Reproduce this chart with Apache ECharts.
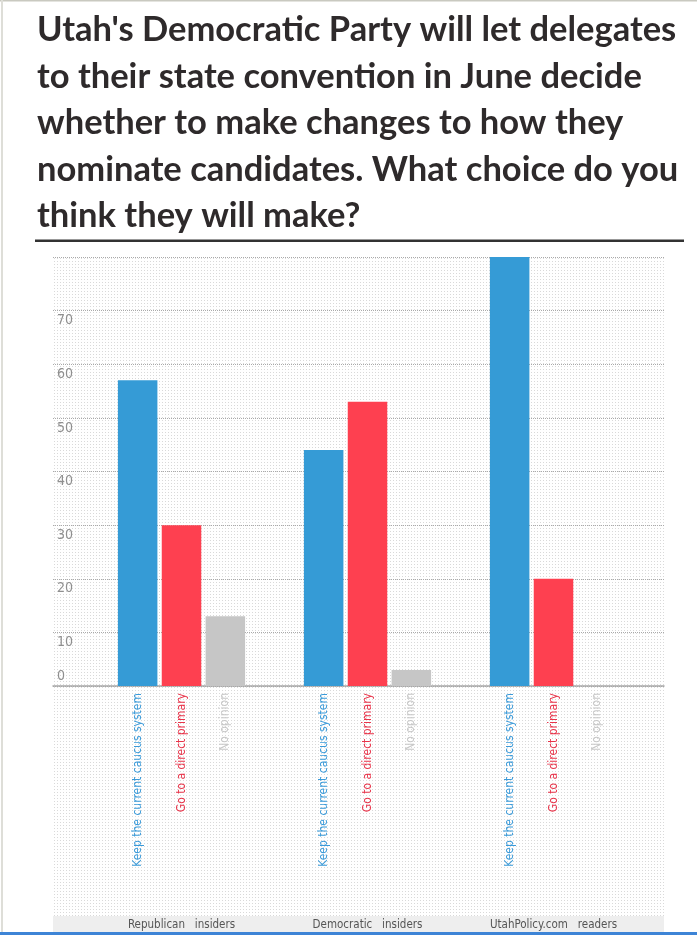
<!DOCTYPE html>
<html lang="en">
<head>
    <meta charset="UTF-8">
    <title>Utah Democratic Party convention poll</title>
    <script src="https://cdn.jsdelivr.net/npm/echarts@6/dist/echarts.min.js"></script>
</head>
<body style="margin: 0; background: #fff">
<div id="container" style="width: 697px; height: 935px"></div>
<script>
    // groups on the x axis
    var groups = ["Republican   insiders", "Democratic   insiders", "UtahPolicy.com   readers"];
    // answers (one bar series each)
    var answers = ["Keep the current caucus system", "Go to a direct primary", "No opinion"];
    var keepCaucus = [57, 44, 80];
    var directPrimary = [30, 53, 20];
    var noOpinion = [13, 3, 0];
    var yTicks = [0, 10, 20, 30, 40, 50, 60, 70];

    var barColors = ["#359bd6", "#fe4050", "#c6c6c6"];
    var textColors = ["#3a9ad9", "#e8344a", "#c8c8c8"];
    var narrow = "'Liberation Sans Narrow', 'DejaVu Sans Condensed', 'Roboto', sans-serif";

    // dotted background texture
    var dots = document.createElement("canvas");
    dots.width = 3;
    dots.height = 3;
    var ctx = dots.getContext("2d");
    ctx.fillStyle = "#fff";
    ctx.fillRect(0, 0, 3, 3);
    ctx.fillStyle = "#d9d9d9";
    ctx.fillRect(0, 0, 1, 1);

    var chart = echarts.init(document.getElementById("container"), null, { renderer: "canvas" });

    function makeSeries(i, values) {
        return {
            name: answers[i],
            type: "bar",
            xAxisIndex: 1,
            yAxisIndex: 1,
            data: values,
            barWidth: 39.5,
            barGap: "11%",
            itemStyle: { color: barColors[i] },
            label: {
                show: true,
                position: "bottom",
                distance: 7,
                rotate: 90,
                align: "right",
                verticalAlign: "middle",
                formatter: "{a}",
                color: textColors[i],
                fontFamily: narrow,
                fontSize: 12
            },
            emphasis: { disabled: true },
            z: 3
        };
    }

    var option = {
        animation: false,
        title: {
            text: "Utah's Democratic Party will let delegates\nto their state convention in June decide\nwhether to make changes to how they\nnominate candidates. What choice do you\nthink they will make?",
            left: 32,
            top: 2,
            textStyle: {
                fontFamily: "Lato",
                fontWeight: "bold",
                fontSize: 34.5,
                lineHeight: 46.5,
                color: "#2e2a2b"
            }
        },
        graphic: [
            { type: "rect", z: -10, shape: { x: 53, y: 257, width: 611, height: 660 },
              style: { fill: { image: dots, repeat: "repeat" } } },
            { type: "rect", z: -9, shape: { x: 53, y: 916, width: 611, height: 19 },
              style: { fill: "#eeeeee" } },
            { type: "rect", z: -9, shape: { x: 35, y: 239.5, width: 649, height: 2.5 },
              style: { fill: "#333" } },
            { type: "rect", z: -9, shape: { x: 0, y: 0, width: 697, height: 1.5 },
              style: { fill: "#c9c9c0" } },
            { type: "rect", z: -9, shape: { x: 1, y: 0, width: 2, height: 935 },
              style: { fill: "#deded8" } },
            { type: "rect", z: -9, shape: { x: 0, y: 932, width: 697, height: 3 },
              style: { fill: "#3d84d6" } }
        ],
        grid: [
            { left: 53, right: 33, top: 257, bottom: 249 },
            { left: 88.5, right: 50.5, top: 257, bottom: 249 }
        ],
        xAxis: [
            {
                type: "category",
                gridIndex: 0,
                data: [""],
                axisLine: { lineStyle: { color: "#a8a8a8", width: 1.5 } },
                axisTick: { show: false },
                axisLabel: { show: false }
            },
            {
                type: "category",
                gridIndex: 1,
                data: groups,
                axisLine: { show: false },
                axisTick: { show: false },
                axisLabel: {
                    interval: 0,
                    hideOverlap: false,
                    margin: 233,
                    color: "#555",
                    fontFamily: narrow,
                    fontSize: 11.5
                }
            }
        ],
        yAxis: [
            {
                type: "value",
                gridIndex: 0,
                min: yTicks[0],
                max: 80,
                interval: yTicks[1] - yTicks[0],
                axisLine: { show: false },
                axisTick: { show: false },
                splitLine: { lineStyle: { color: "#aaa", type: [1, 1] } },
                axisLabel: {
                    inside: true,
                    showMaxLabel: false,
                    margin: 4,
                    verticalAlign: "middle",
                    lineHeight: 20,
                    color: "#8f8f8f",
                    fontFamily: narrow,
                    fontSize: 14,
                    formatter: function (v) {
                        return v === 0 ? v + "\n" : "\n" + v;
                    }
                }
            },
            {
                type: "value",
                gridIndex: 1,
                min: 0,
                max: 80,
                show: false,
                splitLine: { show: false }
            }
        ],
        series: [
            makeSeries(0, keepCaucus),
            makeSeries(1, directPrimary),
            makeSeries(2, noOpinion)
        ]
    };

    chart.setOption(option);
</script>
</body>
</html>
